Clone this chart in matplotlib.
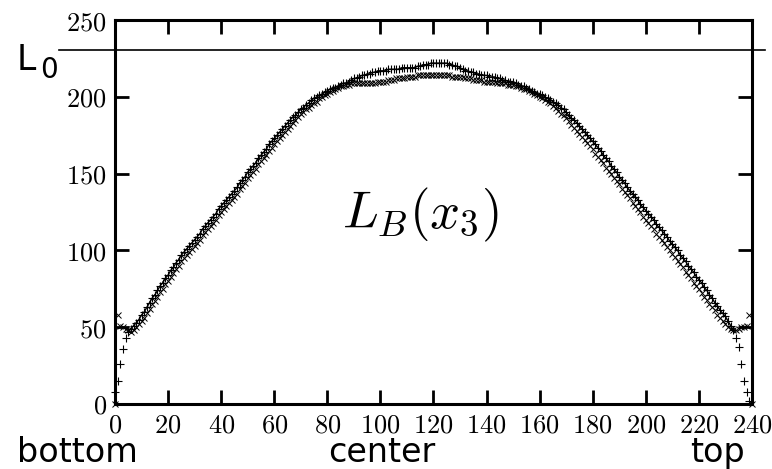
import numpy as np
import matplotlib
matplotlib.use("Agg")
import matplotlib.pyplot as plt
import matplotlib.ticker as mtick

plt.rcParams['mathtext.fontset'] = 'cm'

# L_B(x3) profile, '+' run (upper curve, x = 0..239)
plus_vals = [
    8, 15, 26, 36, 43, 47, 49, 51, 53, 55,
    58, 60, 63, 66, 69, 71, 74, 77, 79, 82,
    84, 87, 89, 92, 94, 97, 99, 101, 103, 105,
    107, 109, 111, 114, 116, 118, 120, 122, 124, 127,
    129, 131, 133, 135, 137, 139, 141, 144, 146, 148,
    151, 153, 155, 157, 160, 162, 164, 166, 169, 171,
    173, 175, 177, 179, 181, 183, 185, 187, 188, 190,
    192, 193, 195, 196, 198, 199, 200, 201, 202, 203,
    204, 205, 206, 206, 207, 208, 209, 209, 210, 211,
    212, 212, 213, 214, 214, 215, 215, 216, 216, 217,
    217, 217, 217, 218, 218, 218, 218, 218, 219, 219,
    219, 219, 219, 219, 220, 220, 221, 221, 221, 222,
    222, 222, 222, 222, 222, 222, 221, 221, 220, 220,
    219, 218, 217, 217, 216, 216, 215, 215, 214, 214,
    214, 213, 213, 213, 212, 212, 211, 211, 210, 210,
    210, 209, 208, 207, 207, 206, 205, 204, 203, 202,
    202, 201, 200, 199, 198, 197, 196, 195, 193, 192,
    190, 188, 186, 185, 183, 181, 179, 177, 175, 173,
    171, 169, 167, 165, 162, 160, 158, 155, 153, 151,
    148, 146, 144, 141, 139, 137, 135, 133, 130, 128,
    126, 124, 122, 120, 117, 115, 113, 111, 109, 106,
    104, 102, 100, 97, 95, 93, 90, 88, 86, 83,
    81, 79, 76, 74, 71, 69, 66, 64, 61, 59,
    57, 54, 51, 48, 43, 37, 26, 15, 8, 2,
]

# 'x' run (lower curve, x = 0..240)
cross_vals = [
    0, 58, 51, 50, 49, 48, 47, 48, 50, 52,
    54, 56, 59, 62, 65, 67, 70, 73, 75, 78,
    80, 83, 85, 88, 90, 93, 95, 97, 99, 101,
    103, 105, 107, 110, 112, 114, 116, 118, 120, 123,
    125, 127, 129, 131, 133, 135, 137, 140, 142, 144,
    147, 149, 151, 153, 156, 158, 160, 162, 165, 167,
    169, 171, 173, 175, 177, 179, 181, 183, 185, 187,
    189, 190, 192, 193, 195, 196, 197, 199, 200, 201,
    202, 203, 204, 205, 206, 207, 207, 208, 208, 209,
    209, 209, 209, 209, 209, 209, 209, 209, 209, 210,
    210, 210, 210, 211, 211, 211, 212, 212, 212, 212,
    213, 213, 213, 213, 214, 214, 214, 214, 214, 214,
    214, 214, 214, 214, 214, 214, 214, 213, 213, 213,
    213, 213, 212, 212, 212, 211, 211, 211, 211, 210,
    210, 210, 210, 210, 209, 209, 209, 209, 208, 208,
    208, 207, 207, 206, 205, 205, 204, 203, 202, 201,
    200, 199, 198, 197, 196, 194, 193, 191, 189, 188,
    186, 184, 182, 180, 178, 176, 174, 172, 170, 168,
    166, 163, 161, 159, 157, 154, 152, 150, 147, 145,
    143, 140, 138, 136, 134, 131, 129, 127, 125, 122,
    120, 118, 116, 114, 111, 109, 107, 105, 102, 100,
    98, 96, 93, 91, 89, 86, 84, 82, 79, 77,
    75, 72, 70, 68, 65, 63, 61, 58, 56, 54,
    52, 50, 49, 48, 48, 49, 50, 50, 51, 58,
    0,
]

L0 = 230.5
x_ticks = list(range(0, 241, 20))
y_ticks = [0, 50, 100, 150, 200, 250]

x_plus = np.arange(len(plus_vals))
x_cross = np.arange(len(cross_vals))

fig = plt.figure(figsize=(7.72, 4.69), dpi=100)
ax = fig.add_axes([0.149, 0.1386, 0.825, 0.8185])

ax.plot(x_cross, cross_vals, linestyle='none', marker='x', color='k',
        markersize=5, markeredgewidth=0.7, clip_on=False)
ax.plot(x_plus, plus_vals, linestyle='none', marker='+', color='k',
        markersize=6, markeredgewidth=0.8, clip_on=False)
# thin line through the '+' run, leaving the end drops unconnected
ax.plot(x_plus[5:234], plus_vals[5:234], '-', color='k', linewidth=1.0)

# L0 reference line, runs past both axes edges
ax.plot([-21, 245], [L0, L0], color='k', linewidth=1.2, clip_on=False)

ax.set_xlim(0, 240)
ax.set_ylim(0, 250)
ax.set_xticks(x_ticks)
ax.set_yticks(y_ticks)
fmt = mtick.FuncFormatter(lambda v, p: f'${v:.0f}$')
ax.xaxis.set_major_formatter(fmt)
ax.yaxis.set_major_formatter(fmt)
ax.tick_params(direction='in', length=10, width=2, labelsize=19,
               top=True, right=True, pad=6)
for s in ax.spines.values():
    s.set_linewidth(2.2)

ax.text(115, 123, r'$L_B(x_3)$', fontsize=38, ha='center', va='center')

fig.text(0.022, 0.851, 'L', fontsize=25, va='baseline', ha='left')
fig.text(0.052, 0.834, '0', fontsize=20, va='baseline', ha='left')
fig.text(0.022, 0.0156, 'bottom', fontsize=24, va='baseline', ha='left')
fig.text(0.494, 0.0156, 'center', fontsize=24, va='baseline', ha='center')
fig.text(0.929, 0.0156, 'top', fontsize=24, va='baseline', ha='center')

fig.savefig('out.png', dpi=100)
